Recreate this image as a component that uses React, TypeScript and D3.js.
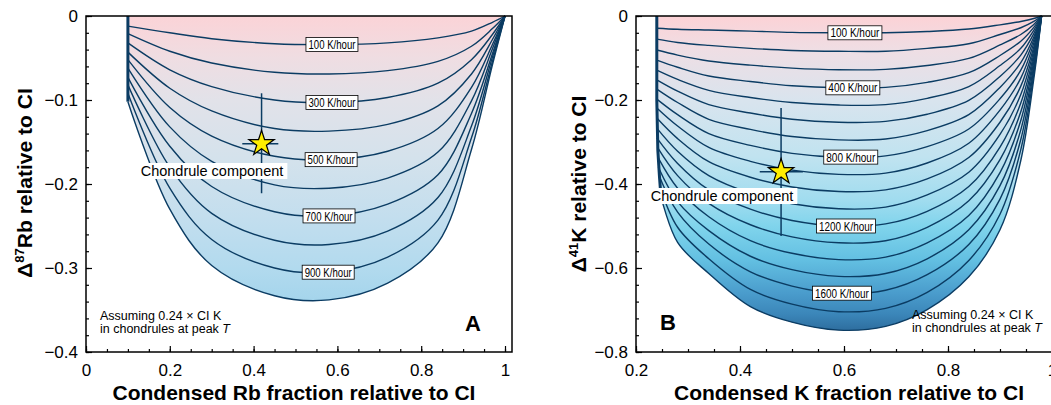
import React, { useEffect, useRef } from "react";
import * as d3 from "d3";

type Pt = [number, number];

// ---------- panel A : Rb ----------
const rbRates = [100, 200, 300, 400, 500, 600, 700, 800, 900, 1000];
const rbCurves: Pt[][] = [
  [[0.1, -0.012], [0.2, -0.020], [0.3, -0.027], [0.45, -0.033], [0.58, -0.034], [0.72, -0.032], [0.84, -0.026], [0.92, -0.018], [0.97, -0.0075], [1, 0]],
  [[0.1, -0.021], [0.2, -0.042], [0.3, -0.056], [0.45, -0.067], [0.58, -0.069], [0.72, -0.065], [0.84, -0.054], [0.92, -0.036], [0.97, -0.015], [1, 0]],
  [[0.1, -0.032], [0.2, -0.064], [0.3, -0.084], [0.45, -0.100], [0.58, -0.103], [0.72, -0.097], [0.84, -0.080], [0.92, -0.052], [0.97, -0.022], [1, 0]],
  [[0.1, -0.043], [0.2, -0.086], [0.3, -0.113], [0.45, -0.134], [0.58, -0.137], [0.72, -0.129], [0.84, -0.107], [0.92, -0.069], [0.97, -0.028], [1, 0]],
  [[0.1, -0.052], [0.2, -0.109], [0.3, -0.143], [0.45, -0.167], [0.58, -0.171], [0.72, -0.161], [0.84, -0.134], [0.92, -0.085], [0.97, -0.034], [1, 0]],
  [[0.1, -0.062], [0.2, -0.132], [0.3, -0.173], [0.45, -0.201], [0.58, -0.205], [0.72, -0.193], [0.84, -0.162], [0.92, -0.101], [0.97, -0.039], [1, 0]],
  [[0.1, -0.073], [0.2, -0.155], [0.3, -0.203], [0.45, -0.233], [0.58, -0.238], [0.72, -0.224], [0.84, -0.189], [0.92, -0.116], [0.97, -0.045], [1, 0]],
  [[0.1, -0.082], [0.2, -0.180], [0.3, -0.235], [0.45, -0.267], [0.58, -0.272], [0.72, -0.256], [0.84, -0.216], [0.92, -0.131], [0.97, -0.049], [1, 0]],
  [[0.1, -0.092], [0.2, -0.205], [0.3, -0.266], [0.45, -0.300], [0.58, -0.305], [0.72, -0.287], [0.84, -0.243], [0.92, -0.145], [0.97, -0.054], [1, 0]],
  [[0.1, -0.102], [0.2, -0.230], [0.3, -0.297], [0.45, -0.333], [0.58, -0.338], [0.72, -0.318], [0.84, -0.270], [0.92, -0.159], [0.97, -0.058], [1, 0]],
];
const rbWall: Pt[] = [[0.1, 0], [0.1, -0.102]];
const rbLabelIdx = [0, 2, 4, 6, 8];
const rbLabelX = [0.587, 0.587, 0.585, 0.58, 0.578];
const rbStar: Pt = [0.419, -0.152];
const rbStarXErr = [0.373, 0.459];
const rbStarYErr = [-0.092, -0.211];
const rbXTicks = [0, 0.2, 0.4, 0.6, 0.8, 1];
const rbYTicks = [0, -0.1, -0.2, -0.3, -0.4];

// ---------- panel B : K ----------
const kRates = [100, 200, 300, 400, 500, 600, 700, 800, 900, 1000, 1100, 1200, 1300, 1400, 1500, 1600, 1700, 1800];
const kCurves: Pt[][] = [
  [[0.24, -0.029], [0.28, -0.0315], [0.34, -0.0335], [0.42, -0.036], [0.5, -0.039], [0.59, -0.040], [0.68, -0.040], [0.76, -0.037], [0.84, -0.031], [0.9, -0.021], [0.94, -0.013], [0.965, -0.006], [0.98, 0]],
  [[0.24, -0.055], [0.28, -0.063], [0.34, -0.070], [0.42, -0.077], [0.5, -0.082], [0.59, -0.084], [0.68, -0.084], [0.76, -0.077], [0.84, -0.066], [0.9, -0.044], [0.94, -0.028], [0.965, -0.013], [0.98, 0]],
  [[0.24, -0.081], [0.28, -0.093], [0.34, -0.107], [0.42, -0.117], [0.5, -0.124], [0.59, -0.128], [0.68, -0.127], [0.76, -0.118], [0.84, -0.101], [0.9, -0.069], [0.94, -0.044], [0.965, -0.020], [0.98, 0]],
  [[0.24, -0.105], [0.28, -0.122], [0.34, -0.143], [0.42, -0.156], [0.5, -0.166], [0.59, -0.171], [0.68, -0.170], [0.76, -0.158], [0.84, -0.135], [0.9, -0.094], [0.94, -0.060], [0.965, -0.027], [0.98, 0]],
  [[0.24, -0.129], [0.28, -0.151], [0.34, -0.177], [0.42, -0.194], [0.5, -0.206], [0.59, -0.212], [0.68, -0.211], [0.76, -0.196], [0.84, -0.168], [0.9, -0.118], [0.94, -0.077], [0.965, -0.034], [0.98, 0]],
  [[0.24, -0.152], [0.28, -0.179], [0.34, -0.211], [0.42, -0.231], [0.5, -0.246], [0.59, -0.253], [0.68, -0.251], [0.76, -0.234], [0.84, -0.201], [0.9, -0.144], [0.94, -0.093], [0.965, -0.042], [0.98, 0]],
  [[0.24, -0.174], [0.28, -0.206], [0.34, -0.246], [0.42, -0.270], [0.5, -0.287], [0.59, -0.295], [0.68, -0.293], [0.76, -0.273], [0.84, -0.235], [0.9, -0.170], [0.94, -0.111], [0.965, -0.050], [0.98, 0]],
  [[0.24, -0.198], [0.28, -0.235], [0.34, -0.280], [0.42, -0.308], [0.5, -0.327], [0.59, -0.336], [0.68, -0.333], [0.76, -0.311], [0.84, -0.269], [0.9, -0.197], [0.94, -0.129], [0.965, -0.057], [0.98, 0]],
  [[0.24, -0.219], [0.28, -0.262], [0.34, -0.313], [0.42, -0.346], [0.5, -0.367], [0.59, -0.377], [0.68, -0.374], [0.76, -0.350], [0.84, -0.303], [0.9, -0.224], [0.94, -0.148], [0.965, -0.065], [0.98, 0]],
  [[0.24, -0.243], [0.28, -0.292], [0.34, -0.347], [0.42, -0.384], [0.5, -0.407], [0.59, -0.418], [0.68, -0.414], [0.76, -0.388], [0.84, -0.337], [0.9, -0.253], [0.94, -0.167], [0.965, -0.074], [0.98, 0]],
  [[0.24, -0.267], [0.28, -0.322], [0.34, -0.380], [0.42, -0.422], [0.5, -0.447], [0.59, -0.459], [0.68, -0.455], [0.76, -0.426], [0.84, -0.372], [0.9, -0.282], [0.94, -0.187], [0.965, -0.082], [0.98, 0]],
  [[0.24, -0.290], [0.28, -0.351], [0.34, -0.414], [0.42, -0.460], [0.5, -0.487], [0.59, -0.500], [0.68, -0.495], [0.76, -0.465], [0.84, -0.406], [0.9, -0.312], [0.94, -0.207], [0.965, -0.091], [0.98, 0]],
  [[0.241, -0.312], [0.28, -0.380], [0.34, -0.446], [0.42, -0.497], [0.5, -0.526], [0.59, -0.540], [0.68, -0.535], [0.76, -0.503], [0.84, -0.440], [0.9, -0.342], [0.94, -0.228], [0.965, -0.100], [0.98, 0]],
  [[0.242, -0.336], [0.28, -0.410], [0.34, -0.478], [0.42, -0.535], [0.5, -0.565], [0.59, -0.580], [0.68, -0.574], [0.76, -0.540], [0.84, -0.475], [0.9, -0.373], [0.94, -0.249], [0.965, -0.109], [0.98, 0]],
  [[0.243, -0.360], [0.28, -0.442], [0.34, -0.511], [0.42, -0.572], [0.5, -0.604], [0.59, -0.620], [0.68, -0.613], [0.76, -0.578], [0.84, -0.509], [0.9, -0.404], [0.94, -0.271], [0.965, -0.119], [0.98, 0]],
  [[0.244, -0.379], [0.28, -0.467], [0.34, -0.543], [0.42, -0.609], [0.5, -0.643], [0.59, -0.660], [0.68, -0.653], [0.76, -0.616], [0.84, -0.544], [0.9, -0.436], [0.94, -0.294], [0.965, -0.128], [0.98, 0]],
  [[0.246, -0.407], [0.28, -0.503], [0.34, -0.578], [0.42, -0.651], [0.5, -0.686], [0.59, -0.704], [0.68, -0.696], [0.76, -0.658], [0.84, -0.582], [0.9, -0.472], [0.94, -0.318], [0.965, -0.139], [0.98, 0]],
  [[0.248, -0.430], [0.28, -0.539], [0.34, -0.613], [0.42, -0.692], [0.5, -0.729], [0.59, -0.748], [0.68, -0.739], [0.76, -0.699], [0.84, -0.621], [0.9, -0.509], [0.94, -0.344], [0.965, -0.150], [0.98, 0]],
];
const kWall: Pt[] = [[0.24, 0], [0.24, -0.2], [0.242, -0.32], [0.245, -0.38], [0.248, -0.43]];
const kLabelIdx = [0, 3, 7, 11, 15];
const kLabelX = [0.621, 0.617, 0.613, 0.604, 0.596];
const kStar: Pt = [0.479, -0.371];
const kStarXErr = [0.438, 0.521];
const kStarYErr = [-0.219, -0.524];
const kXTicks = [0.2, 0.4, 0.6, 0.8, 1];
const kYTicks = [0, -0.2, -0.4, -0.6, -0.8];

const NAVY = "#0b3c63";
const FONT = "'Liberation Sans', Arial, Helvetica, sans-serif";
const NARROW = "'Liberation Sans Narrow', 'Arial Narrow', 'Liberation Sans', sans-serif";

const fmt = (d: number) =>
  Math.abs(d) < 1e-9 ? "0" : Math.abs(d - 1) < 1e-9 ? "1" : d3.format(".1f")(d);

const panels = [
  {
    id: "rb", rates: rbRates, curves: rbCurves, wall: rbWall, labelIdx: rbLabelIdx, labelX: rbLabelX,
    star: rbStar, starXErr: rbStarXErr, starYErr: rbStarYErr, xTicks: rbXTicks, yTicks: rbYTicks,
    xMinor: d3.range(0, 1.0001, 0.05), yMinor: d3.range(0, -0.4001, -0.02),
    xDomain: [0, 1.0167], xRange: [86, 512], yDomain: [-0.4, 0], yRange: [352, 16],
    stops: [[0, "#fbd3d7"], [-0.05, "#efdde2"], [-0.1, "#e2e2e9"], [-0.17, "#d4e2ec"], [-0.24, "#c3deee"], [-0.3, "#b2daee"], [-0.338, "#a5d5ec"]],
    chond: [212, 176], letter: "A", letterPos: [473, 331], note: [100, 320],
    xTitle: "Condensed Rb fraction relative to CI", xTitlePos: [294, 400],
    yIso: "87", yEl: "Rb", yTitlePos: [32, 183], labelW: [52, 58],
  },
  {
    id: "k", rates: kRates, curves: kCurves, wall: kWall, labelIdx: kLabelIdx, labelX: kLabelX,
    star: kStar, starXErr: kStarXErr, starYErr: kStarYErr, xTicks: kXTicks, yTicks: kYTicks,
    xMinor: d3.range(0.2, 1.0001, 0.05), yMinor: d3.range(0, -0.8001, -0.04),
    xDomain: [0.2, 1.0154], xRange: [636, 1060], yDomain: [-0.8, 0], yRange: [352, 16],
    stops: [[0, "#fcd2d6"], [-0.08, "#efdee4"], [-0.2, "#d9e4ee"], [-0.336, "#c0e3f0"], [-0.44, "#a0dcef"], [-0.5, "#80d4ec"], [-0.58, "#63c0e2"], [-0.66, "#4a9ccc"], [-0.71, "#3b86b9"], [-0.748, "#2e6e9f"]],
    chond: [722, 201], letter: "B", letterPos: [668, 330], note: [912, 319],
    xTitle: "Condensed K fraction relative to CI", xTitlePos: [849, 400],
    yIso: "41", yEl: "K", yTitlePos: [586, 184], labelW: [54, 59],
  },
];

function drawPanel(svg: any, p: any) {
  const x = d3.scaleLinear().domain(p.xDomain).range(p.xRange);
  const y = d3.scaleLinear().domain(p.yDomain).range(p.yRange);
  const bottom: Pt[] = p.curves[p.curves.length - 1];
  const yBottom = d3.min(bottom, (d) => d[1]) as number;

  const grad = svg.select("defs").append("linearGradient")
    .attr("id", p.id + "-grad").attr("gradientUnits", "userSpaceOnUse")
    .attr("x1", 0).attr("x2", 0).attr("y1", y(0)).attr("y2", y(yBottom));
  p.stops.forEach(([v, c]: [number, string]) =>
    grad.append("stop").attr("offset", v / yBottom).attr("stop-color", c));

  const curveLine = d3.line<Pt>().x((d) => x(d[0])).y((d) => y(d[1])).curve(d3.curveCatmullRom.alpha(0.5));
  const wallLine = d3.line<Pt>().x((d) => x(d[0])).y((d) => y(d[1]));

  const g = svg.append("g");
  g.append("path")
    .attr("d", wallLine(p.wall) + (curveLine(bottom) as string).replace(/^M/, "L") + "Z")
    .attr("fill", `url(#${p.id}-grad)`);

  g.selectAll("path.rate").data(p.curves).join("path")
    .attr("class", "rate")
    .attr("d", (d: Pt[]) => curveLine(d))
    .attr("fill", "none").attr("stroke", NAVY).attr("stroke-width", 1.4);

  g.append("path").attr("d", wallLine(p.wall))
    .attr("fill", "none").attr("stroke", NAVY).attr("stroke-width", 3);

  // error bars + star
  g.append("line")
    .attr("x1", x(p.star[0])).attr("x2", x(p.star[0]))
    .attr("y1", y(p.starYErr[0])).attr("y2", y(p.starYErr[1]))
    .attr("stroke", NAVY).attr("stroke-width", 1.5);
  g.append("line")
    .attr("x1", x(p.starXErr[0])).attr("x2", x(p.starXErr[1]))
    .attr("y1", y(p.star[1])).attr("y2", y(p.star[1]))
    .attr("stroke", NAVY).attr("stroke-width", 1.5);
  g.append("path")
    .attr("d", d3.symbol(d3.symbolStar, 200)())
    .attr("transform", `translate(${x(p.star[0])},${y(p.star[1])})`)
    .attr("fill", "#ffee00").attr("stroke", "#000").attr("stroke-width", 1.2);

  // cooling rate labels
  p.labelIdx.forEach((ci: number, k: number) => {
    const cx = x(p.labelX[k]);
    const cy = y(d3.min(p.curves[ci] as Pt[], (d) => d[1]) as number);
    const txt = `${p.rates[ci]} K/hour`;
    const w = p.rates[ci] >= 1000 ? p.labelW[1] : p.labelW[0];
    g.append("rect").attr("x", cx - w / 2).attr("y", cy - 7).attr("width", w).attr("height", 14)
      .attr("fill", "#fff").attr("stroke", "#000").attr("stroke-width", 0.8);
    g.append("text").attr("x", cx).attr("y", cy + 4.6).attr("text-anchor", "middle")
      .attr("font-family", NARROW).attr("font-size", 13)
      .attr("textLength", w - 5).attr("lengthAdjust", "spacingAndGlyphs").text(txt);
  });

  // chondrule label
  const cr = g.append("rect").attr("fill", "#fff");
  const ct = g.append("text").attr("x", p.chond[0]).attr("y", p.chond[1])
    .attr("text-anchor", "middle").attr("font-family", FONT).attr("font-size", 14.5)
    .text("Chondrule component");
  const bb = (ct.node() as SVGTextElement).getBBox();
  cr.attr("x", bb.x - 4).attr("y", bb.y).attr("width", bb.width + 8).attr("height", bb.height);

  // axes
  const styleAxis = (a: any) => {
    a.select(".domain").remove();
    a.selectAll("line").attr("stroke-width", 1.2);
    a.selectAll("text").attr("font-size", 17).attr("font-family", FONT).attr("fill", "#000");
  };
  const xa = g.append("g").attr("transform", `translate(0,${p.yRange[0]})`);
  xa.append("g").call(d3.axisBottom(x).tickValues(p.xMinor).tickSize(-3).tickFormat(() => "")).call(styleAxis);
  xa.append("g").call(d3.axisBottom(x).tickValues(p.xTicks).tickSize(-6).tickPadding(12).tickFormat((d: any) => fmt(d))).call(styleAxis);
  const ya = g.append("g").attr("transform", `translate(${p.xRange[0]},0)`);
  ya.append("g").call(d3.axisLeft(y).tickValues(p.yMinor).tickSize(-3).tickFormat(() => "")).call(styleAxis);
  ya.append("g").call(d3.axisLeft(y).tickValues(p.yTicks).tickSize(-6).tickPadding(8).tickFormat((d: any) => fmt(d))).call(styleAxis);

  g.append("rect")
    .attr("x", p.xRange[0]).attr("y", p.yRange[1])
    .attr("width", p.xRange[1] - p.xRange[0]).attr("height", p.yRange[0] - p.yRange[1])
    .attr("fill", "none").attr("stroke", "#000").attr("stroke-width", 1.5);

  // note + letter
  const nt = g.append("text").attr("x", p.note[0]).attr("y", p.note[1])
    .attr("font-family", FONT).attr("font-size", 12.5);
  nt.append("tspan").attr("x", p.note[0]).text("Assuming 0.24 × CI K");
  nt.append("tspan").attr("x", p.note[0]).attr("dy", 12.5).text("in chondrules at peak ");
  nt.append("tspan").attr("font-style", "italic").text("T");

  g.append("text").attr("x", p.letterPos[0]).attr("y", p.letterPos[1])
    .attr("text-anchor", "middle").attr("font-family", FONT).attr("font-weight", "bold")
    .attr("font-size", 22).text(p.letter);

  // titles
  svg.append("text").attr("x", p.xTitlePos[0]).attr("y", p.xTitlePos[1])
    .attr("text-anchor", "middle").attr("font-family", FONT).attr("font-weight", "bold")
    .attr("font-size", 21).text(p.xTitle);
  const yt = svg.append("text")
    .attr("transform", `translate(${p.yTitlePos[0]},${p.yTitlePos[1]}) rotate(-90)`)
    .attr("text-anchor", "middle").attr("font-family", FONT).attr("font-weight", "bold")
    .attr("font-size", 21);
  yt.append("tspan").text("Δ");
  yt.append("tspan").attr("font-size", 13).attr("dy", -8).text(p.yIso);
  yt.append("tspan").attr("dy", 8).text(p.yEl + " relative to CI");
}

const App = () => {
  const ref = useRef<SVGSVGElement>(null);

  useEffect(() => {
    const svg = d3.select(ref.current);
    svg.selectAll("*").remove();
    svg.append("defs");
    panels.forEach((p) => drawPanel(svg, p));
  }, []);

  return (
    <svg
      ref={ref}
      width={1051}
      height={405}
      style={{ position: "absolute", left: 0, top: 0, background: "#fff" }}
    />
  );
};

export default App;
